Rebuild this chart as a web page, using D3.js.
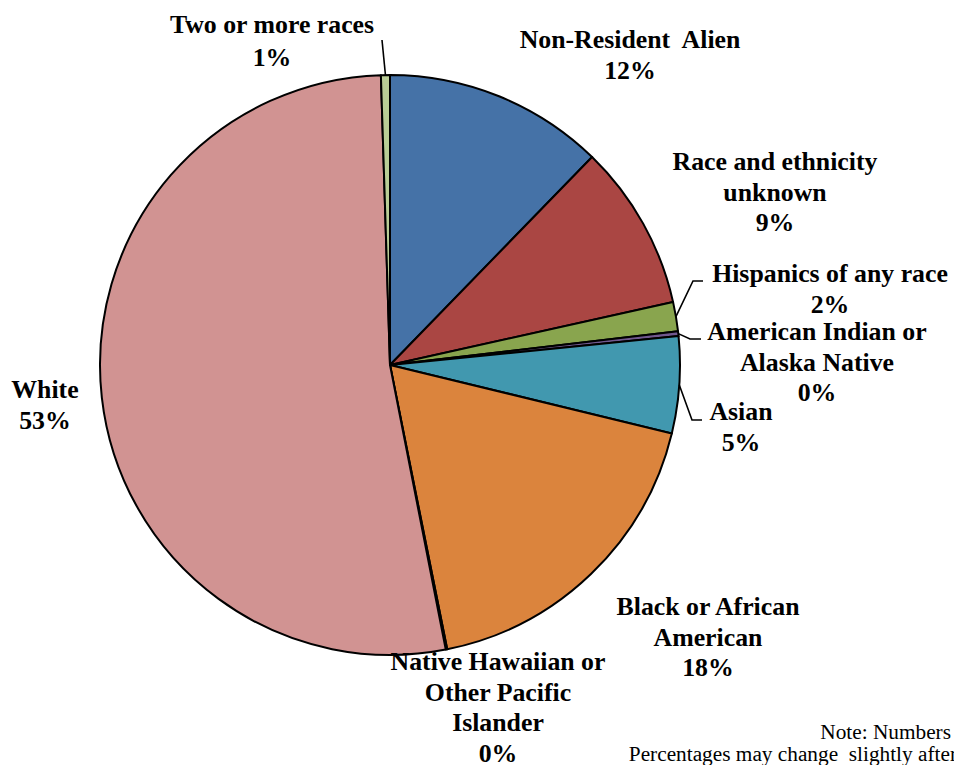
<!DOCTYPE html>
<html><head><meta charset="utf-8">
<script src="https://cdn.jsdelivr.net/npm/d3@7"></script>
<style>html,body{margin:0;padding:0;background:#fff;overflow:hidden}</style>
</head><body>
<svg id="c" width="954" height="765"></svg>
<script>
const categories = ["Non-Resident Alien","Race and ethnicity unknown","Hispanics of any race","American Indian or Alaska Native","Asian","Black or African American","Native Hawaiian or Other Pacific Islander","White","Two or more races"];
const values = [12.27, 9.25, 1.62, 0.27, 5.38, 18.05, 0.08, 52.58, 0.50];
const colors = ["#4572A7","#AA4643","#89A54E","#71588F","#4198AF","#DB843D","#93A9CF","#D19392","#B9CD96"];
const labelLines = [
  ["Non-Resident  Alien"],
  ["Race and ethnicity","unknown"],
  ["Hispanics of any race"],
  ["American Indian or","Alaska Native"],
  ["Asian"],
  ["Black or African","American"],
  ["Native Hawaiian or","Other Pacific","Islander"],
  ["White"],
  ["Two or more races"]
];
const noteLines = ["Note: Numbers", "Percentages may change  slightly after"];

const svg = d3.select("#c");
const cx = 390, cy = 365, R = 290;
const data = categories.map((c,i)=>({name:c, value:values[i], color:colors[i], lines:labelLines[i]}));
const total = d3.sum(values);
const pie = d3.pie().value(d=>d.value).sort(null);
const arcs = pie(data);
const arc = d3.arc().innerRadius(0).outerRadius(R);
const g = svg.append("g").attr("transform",`translate(${cx},${cy})`);
g.selectAll("path").data(arcs).join("path")
  .attr("d",arc).attr("fill",d=>d.data.color)
  .attr("stroke","#000").attr("stroke-width",2).attr("stroke-linejoin","round");

// label layout (center x, first baseline y)
const layout = [
  {x:630,y:48},{x:775,y:170},{x:830,y:282},{x:817,y:340},{x:741,y:420},
  {x:708,y:615},{x:498,y:670},{x:45,y:398},{x:272,y:33}
];
const lh = 30.5;
const fmt = d3.format(".0%");
arcs.forEach((a,i)=>{
  const L = layout[i];
  const lines = a.data.lines.concat([fmt(a.data.value/total)]);
  const t = svg.append("text").attr("text-anchor","middle")
    .attr("font-family","'Liberation Serif','Times New Roman',serif")
    .attr("font-weight","bold").attr("font-size",25.8).attr("fill","#000");
  lines.forEach((s,k)=>{
    t.append("tspan").attr("x",L.x).attr("y",L.y + k*(i===8?33:lh)).attr("xml:space","preserve").text(s);
  });
});

// leader lines: from arc edge at mid-angle to elbow then short horizontal
const leaders = [
  {i:8, pts:[[382,40]]},
  {i:2, pts:[[693,281],[703,281]]},
  {i:3, pts:[[690,339],[701,339]]},
  {i:4, pts:[[692,420],[702,420]]}
];
leaders.forEach(l=>{
  const a = arcs[l.i];
  const m = (a.startAngle+a.endAngle)/2;
  const start = [cx + R*Math.sin(m), cy - R*Math.cos(m)];
  svg.append("path").attr("d", d3.line()([start, ...l.pts]))
    .attr("fill","none").attr("stroke","#000").attr("stroke-width",1.6);
});

// note
const nt = svg.append("text").attr("text-anchor","end")
  .attr("font-family","'Liberation Serif','Times New Roman',serif")
  .attr("font-size",21.3).attr("fill","#000");
nt.append("tspan").attr("x",951).attr("y",739).text(noteLines[0]);
nt.append("tspan").attr("x",957).attr("y",761).attr("xml:space","preserve").text(noteLines[1]);
</script>
</body></html>
